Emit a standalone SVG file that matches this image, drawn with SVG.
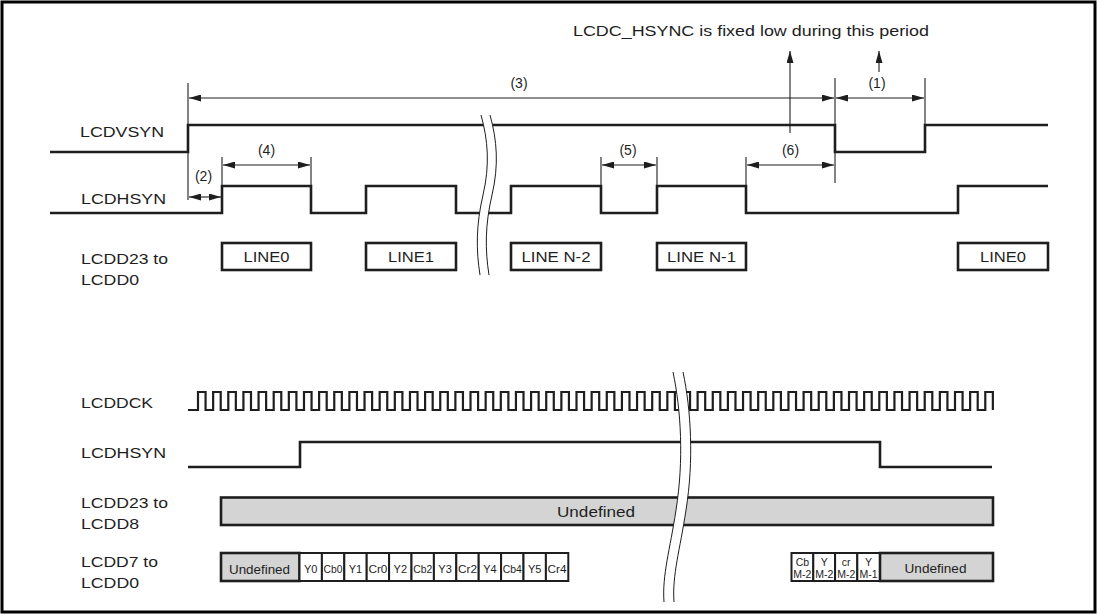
<svg xmlns="http://www.w3.org/2000/svg" width="1100" height="615" viewBox="0 0 1100 615">
<defs>
<style>
text{font-family:"Liberation Sans",Arial,sans-serif;fill:#1e1e1e}
.lbl{font-size:14px}
.wave{fill:none;stroke:#1e1e1e;stroke-width:2.6;stroke-linejoin:miter}
.clk{fill:none;stroke:#1e1e1e;stroke-width:2.2}
.ext{fill:none;stroke:#1e1e1e;stroke-width:1.1}
.dim{fill:none;stroke:#1e1e1e;stroke-width:1.1;marker-start:url(#ah);marker-end:url(#ah)}
.up{fill:none;stroke:#1e1e1e;stroke-width:1.1;marker-end:url(#ah)}
.box{fill:#fff;stroke:#1e1e1e;stroke-width:2.6}
.gbox{fill:#d4d4d4;stroke:#1e1e1e;stroke-width:2.6}
.cell{fill:#fff;stroke:#1e1e1e;stroke-width:2}
.brk{fill:none;stroke:#1e1e1e;stroke-width:1}
.brkf{fill:#fff;stroke:none}
.c{text-anchor:middle}
.sm{font-size:11px}
.xs{font-size:10.5px}
</style>
<marker id="ah" markerUnits="userSpaceOnUse" markerWidth="12" markerHeight="7" refX="12" refY="3.5" orient="auto-start-reverse">
<path d="M0,0 L12,3.5 L0,7 Z" fill="#1e1e1e"/>
</marker>
</defs>

<rect x="2" y="2" width="1093" height="610" fill="#fff" stroke="#000" stroke-width="3"/>

<!-- ===== Top timing section ===== -->
<g id="lcdvsyn-top">
<text class="lbl" x="80" y="137" textLength="84" lengthAdjust="spacingAndGlyphs">LCDVSYN</text>
<path class="wave" d="M50,152 H188 V125 H835 V152 H925 V125 H1048"/>
</g>

<g id="lcdhsyn-top">
<text class="lbl" x="81" y="204" textLength="85" lengthAdjust="spacingAndGlyphs">LCDHSYN</text>
<path class="wave" d="M50,213 H222 V186 H311 V213 H366 V186 H456 V213 H511 V186 H601 V213 H657 V186 H746 V213 H958 V186 H1048"/>
</g>

<g id="lcdd23-0-top">
<text class="lbl" x="81" y="263.5" textLength="87" lengthAdjust="spacingAndGlyphs">LCDD23 to</text>
<text class="lbl" x="81" y="285" textLength="58" lengthAdjust="spacingAndGlyphs">LCDD0</text>
<g id="line0">
<rect class="box" x="222" y="243" width="89" height="27"/>
<text class="lbl c" x="266.5" y="262" textLength="46" lengthAdjust="spacingAndGlyphs">LINE0</text>
</g>
<g id="line1">
<rect class="box" x="366" y="243" width="90" height="27"/>
<text class="lbl c" x="411" y="262" textLength="46" lengthAdjust="spacingAndGlyphs">LINE1</text>
</g>
<g id="lineN2">
<rect class="box" x="511" y="243" width="90" height="27"/>
<text class="lbl c" x="556" y="262" textLength="69" lengthAdjust="spacingAndGlyphs">LINE N-2</text>
</g>
<g id="lineN1">
<rect class="box" x="657" y="243" width="89" height="27"/>
<text class="lbl c" x="701.5" y="262" textLength="69" lengthAdjust="spacingAndGlyphs">LINE N-1</text>
</g>
<g id="line0b">
<rect class="box" x="958" y="243" width="90" height="27"/>
<text class="lbl c" x="1003" y="262" textLength="46" lengthAdjust="spacingAndGlyphs">LINE0</text>
</g>
</g>

<g id="break-top">
<path class="brkf" d="M481,115 C488,140 490,165 483,195 C476,225 476,250 480,275 L489,275 C485,250 485,225 492,195 C499,165 497,140 490,115 Z"/>
<path class="brk" d="M481,115 C488,140 490,165 483,195 C476,225 476,250 480,275"/>
<path class="brk" d="M490,115 C497,140 499,165 492,195 C485,225 485,250 489,275"/>
</g>

<g id="connectors">
<!-- extension lines -->
<path class="ext" d="M188,83 V200"/>
<path class="ext" d="M835,78 V183"/>
<path class="ext" d="M925,78 V125"/>
<path class="ext" d="M222,157 V186"/>
<path class="ext" d="M311,157 V186"/>
<path class="ext" d="M601,157 V186"/>
<path class="ext" d="M657,157 V186"/>
<path class="ext" d="M746,157 V186"/>
<!-- dimensions -->
<path class="dim" d="M189,98 H834"/>
<path class="dim" d="M836,98 H924"/>
<path class="dim" d="M189,197 H221"/>
<path class="dim" d="M223,165 H310"/>
<path class="dim" d="M602,165 H656"/>
<path class="dim" d="M747,165 H834"/>
<!-- pointers to note -->
<path class="up" d="M790,133 V51"/>
<path class="up" d="M879,72 V51"/>
</g>

<g id="dim-labels">
<text class="lbl" x="573" y="36" textLength="356" lengthAdjust="spacingAndGlyphs">LCDC_HSYNC is fixed low during this period</text>
<text class="lbl c" x="519" y="88">(3)</text>
<text class="lbl c" x="877" y="88">(1)</text>
<text class="lbl c" x="203.5" y="181">(2)</text>
<text class="lbl c" x="266.5" y="155">(4)</text>
<text class="lbl c" x="628" y="155">(5)</text>
<text class="lbl c" x="790.5" y="155">(6)</text>
</g>

<!-- ===== Bottom detail section ===== -->
<g id="lcddck">
<text class="lbl" x="81" y="408" textLength="72" lengthAdjust="spacingAndGlyphs">LCDDCK</text>
<path class="clk" d="M188,410 H198
v-18h7.57v18h7.57v-18h7.57v18h7.57v-18h7.57v18h7.57v-18h7.57v18h7.57
v-18h7.57v18h7.57v-18h7.57v18h7.57v-18h7.57v18h7.57v-18h7.57v18h7.57
v-18h7.57v18h7.57v-18h7.57v18h7.57v-18h7.57v18h7.57v-18h7.57v18h7.57
v-18h7.57v18h7.57v-18h7.57v18h7.57v-18h7.57v18h7.57v-18h7.57v18h7.57
v-18h7.57v18h7.57v-18h7.57v18h7.57v-18h7.57v18h7.57v-18h7.57v18h7.57
v-18h7.57v18h7.57v-18h7.57v18h7.57v-18h7.57v18h7.57v-18h7.57v18h7.57
v-18h7.57v18h7.57v-18h7.57v18h7.57v-18h7.57v18h7.57v-18h7.57v18h7.57
v-18h7.57v18h7.57v-18h7.57v18h7.57v-18h7.57v18h7.57v-18h7.57v18h7.57
v-18h7.57v18h7.57v-18h7.57v18h7.57v-18h7.57v18h7.57v-18h7.57v18h7.57
v-18h7.57v18h7.57v-18h7.57v18h7.57v-18h7.57v18h7.57v-18h7.57v18h7.57
v-18h7.57v18h7.57v-18h7.57v18h7.57v-18h7.57v18h7.57v-18h7.57v18h7.57
v-18h7.57v18h7.57v-18h7.57v18h7.57v-18h7.57v18h7.57v-18h7.57v18h7.57
v-18h7.57v18h7.57v-18h7.57v18h7.57v-18h7.57v18h7.57v-18h7.57v18h7.57
v-18h7.57v18"/>
</g>

<g id="lcdhsyn-bottom">
<text class="lbl" x="81" y="458" textLength="85" lengthAdjust="spacingAndGlyphs">LCDHSYN</text>
<path class="wave" d="M188,467 H300 V442 H880 V467 H992"/>
</g>

<g id="lcdd23-8">
<text class="lbl" x="81" y="508" textLength="87" lengthAdjust="spacingAndGlyphs">LCDD23 to</text>
<text class="lbl" x="81" y="529" textLength="58" lengthAdjust="spacingAndGlyphs">LCDD8</text>
<rect class="gbox" x="221" y="497.5" width="772" height="27.5"/>
<text class="lbl" x="557" y="517" textLength="78" lengthAdjust="spacingAndGlyphs">Undefined</text>
</g>

<g id="lcdd7-0">
<text class="lbl" x="81" y="567" textLength="77" lengthAdjust="spacingAndGlyphs">LCDD7 to</text>
<text class="lbl" x="81" y="588" textLength="58" lengthAdjust="spacingAndGlyphs">LCDD0</text>
<rect class="gbox" x="221" y="553" width="78.5" height="28"/>
<text x="229" y="573.5" font-size="13" textLength="61" lengthAdjust="spacingAndGlyphs">Undefined</text>
<g id="cells-left">
<rect class="cell" x="299.5" y="553" width="22.4" height="28"/>
<rect class="cell" x="321.9" y="553" width="22.4" height="28"/>
<rect class="cell" x="344.3" y="553" width="22.4" height="28"/>
<rect class="cell" x="366.7" y="553" width="22.4" height="28"/>
<rect class="cell" x="389.1" y="553" width="22.4" height="28"/>
<rect class="cell" x="411.5" y="553" width="22.4" height="28"/>
<rect class="cell" x="433.9" y="553" width="22.4" height="28"/>
<rect class="cell" x="456.3" y="553" width="22.4" height="28"/>
<rect class="cell" x="478.7" y="553" width="22.4" height="28"/>
<rect class="cell" x="501.1" y="553" width="22.4" height="28"/>
<rect class="cell" x="523.5" y="553" width="22.4" height="28"/>
<rect class="cell" x="545.9" y="553" width="22.4" height="28"/>
<text class="sm c" x="310.7" y="573">Y0</text>
<text class="sm c" x="333.1" y="573" textLength="19" lengthAdjust="spacingAndGlyphs">Cb0</text>
<text class="sm c" x="355.5" y="573">Y1</text>
<text class="sm c" x="377.9" y="573" textLength="19" lengthAdjust="spacingAndGlyphs">Cr0</text>
<text class="sm c" x="400.3" y="573">Y2</text>
<text class="sm c" x="422.7" y="573" textLength="19" lengthAdjust="spacingAndGlyphs">Cb2</text>
<text class="sm c" x="445.1" y="573">Y3</text>
<text class="sm c" x="467.5" y="573" textLength="19" lengthAdjust="spacingAndGlyphs">Cr2</text>
<text class="sm c" x="489.9" y="573">Y4</text>
<text class="sm c" x="512.3" y="573" textLength="19" lengthAdjust="spacingAndGlyphs">Cb4</text>
<text class="sm c" x="534.7" y="573">Y5</text>
<text class="sm c" x="557.1" y="573" textLength="19" lengthAdjust="spacingAndGlyphs">Cr4</text>
</g>
<g id="cells-right">
<rect class="cell" x="791.5" y="553" width="21.8" height="28"/>
<rect class="cell" x="813.3" y="553" width="21.8" height="28"/>
<rect class="cell" x="835.1" y="553" width="22.2" height="28"/>
<rect class="cell" x="857.3" y="553" width="22.7" height="28"/>
<rect class="gbox" x="880" y="553" width="113" height="28"/>
<text class="xs c" x="802.4" y="566">Cb</text>
<text class="xs c" x="802.4" y="577.5">M-2</text>
<text class="xs c" x="824.2" y="566">Y</text>
<text class="xs c" x="824.2" y="577.5">M-2</text>
<text class="xs c" x="846.2" y="566">cr</text>
<text class="xs c" x="846.2" y="577.5">M-2</text>
<text class="xs c" x="868.6" y="566">Y</text>
<text class="xs c" x="868.6" y="577.5">M-1</text>
<text x="935.5" y="573" font-size="13" class="c" textLength="62" lengthAdjust="spacingAndGlyphs">Undefined</text>
</g>
</g>

<g id="break-bottom">
<path class="brkf" d="M673,372 C681,410 684,460 676,510 C670,550 662,575 664,602 L674,602 C672,575 680,550 686,510 C694,460 691,410 683,372 Z"/>
<path class="brk" d="M673,372 C681,410 684,460 676,510 C670,550 662,575 664,602"/>
<path class="brk" d="M683,372 C691,410 694,460 686,510 C680,550 672,575 674,602"/>
</g>
</svg>
